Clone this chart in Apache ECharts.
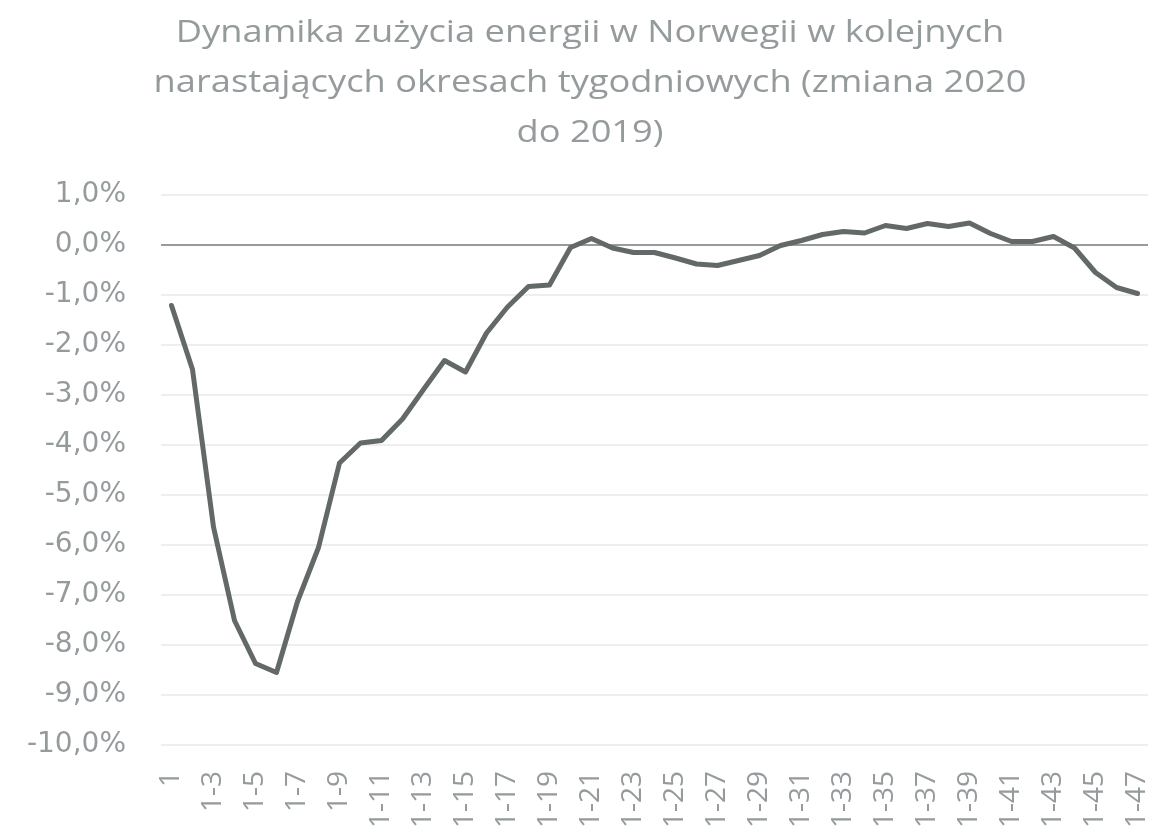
<!DOCTYPE html>
<html>
<head>
<meta charset="utf-8">
<script src="https://cdn.jsdelivr.net/npm/echarts@6/dist/echarts.min.js"></script>
<style>
html,body{margin:0;padding:0;background:#fff;}
#chart{width:1171px;height:838px;}
</style>
</head>
<body>
<div id="chart"></div>
<script>
var titleText = 'Dynamika zużycia energii w Norwegii w kolejnych\nnarastających okresach tygodniowych (zmiana 2020\ndo 2019)';

var categories = [];
for (var w = 1; w <= 47; w++) categories.push(w === 1 ? '1' : '1-' + w);

var values = [
  -1.21, -2.49, -5.64, -7.51, -8.37, -8.55, -7.13, -6.05, -4.36, -3.96,
  -3.91, -3.48, -2.89, -2.31, -2.54, -1.76, -1.24, -0.83, -0.80, -0.05,
   0.13, -0.06, -0.15, -0.15, -0.26, -0.38, -0.41, -0.31, -0.21, -0.01,
   0.09, 0.21, 0.27, 0.24, 0.39, 0.33, 0.43, 0.37, 0.44, 0.23,
   0.07, 0.07, 0.17, -0.06, -0.55, -0.85, -0.97
];

var yMin = -10, yMax = 1, yStep = 1;
var FONT = '"Open Sans", sans-serif';

var chart = echarts.init(document.getElementById('chart'), null, {renderer: 'canvas'});
chart.setOption({
  backgroundColor: '#ffffff',
  animation: false,
  textStyle: {fontFamily: FONT},
  graphic: [{
    type: 'text',
    x: 590,
    y: 8,
    scaleX: 1.17,
    silent: true,
    style: {
      text: titleText,
      font: '31px ' + FONT,
      fill: '#959b9d',
      textAlign: 'center',
      textVerticalAlign: 'top',
      lineHeight: 50
    }
  }],
  grid: {left: 161, right: 23, top: 195, bottom: 93, containLabel: false},
  xAxis: {
    type: 'category',
    data: categories,
    boundaryGap: true,
    axisLine: {show: false},
    axisTick: {show: false},
    axisLabel: {
      interval: 1,
      rotate: 90,
      margin: 26,
      fontSize: 28,
      color: '#959b9d',
      fontFamily: FONT
    },
    splitLine: {show: false}
  },
  yAxis: {
    type: 'value',
    min: yMin,
    max: yMax,
    interval: yStep,
    axisLine: {show: false},
    axisTick: {show: false},
    axisLabel: {
      margin: 35,
      fontSize: 28,
      color: '#959b9d',
      fontFamily: '"DejaVu Sans", sans-serif',
      formatter: function (v) { return v.toFixed(1).replace('.', ',') + '%'; }
    },
    splitLine: {lineStyle: {color: '#e8e8e8', width: 1.5}}
  },
  series: [{
    type: 'line',
    data: values,
    symbol: 'none',
    lineStyle: {color: '#636869', width: 5, join: 'round', cap: 'round'},
    z: 3,
    markLine: {
      silent: true,
      symbol: ['none', 'none'],
      label: {show: false},
      lineStyle: {color: '#7a7f80', width: 1.5, type: 'solid'},
      data: [{yAxis: 0}],
      z: 2
    }
  }]
});
</script>
</body>
</html>
